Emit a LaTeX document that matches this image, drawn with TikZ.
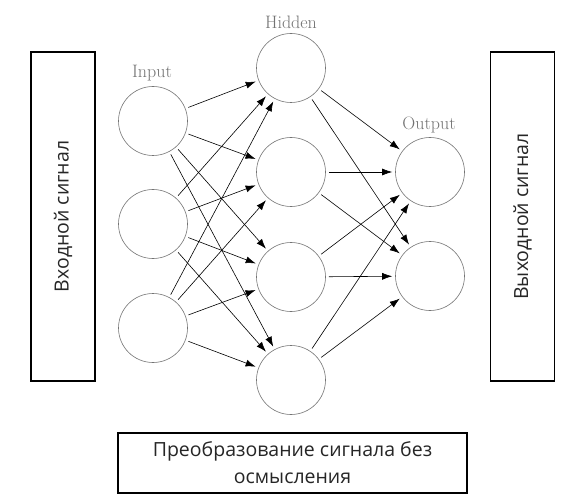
\documentclass[tikz,border=0pt]{standalone}
\usepackage{fontspec}
\newfontfamily\rufont{Open Sans}
\usetikzlibrary{arrows.meta}
\begin{document}
\begin{tikzpicture}[x=1bp,y=-1bp,
  neuron/.style={circle,draw=black!55,line width=0.6bp,minimum size=69bp,inner sep=0pt},
  layerlabel/.style={text=black!55,font=\fontsize{18bp}{20bp}\selectfont},
  sigbox/.style={draw=black,line width=1.6bp,minimum width=64bp,minimum height=329bp,inner sep=0pt},
  conn/.style={-{Latex[length=10bp,width=7bp]},line width=0.6bp,shorten <=3bp,shorten >=3bp},
  rutext/.style={font=\rufont\fontsize{19.5bp}{27bp}\selectfont,text=black!85}]
\useasboundingbox (0,0) rectangle (578,504);
\fill[white] (0,0) rectangle (578,504);
% neurons
\node[neuron] (i1) at (153,121) {};
\node[neuron] (i2) at (153,224) {};
\node[neuron] (i3) at (153,328) {};
\node[neuron] (h1) at (291,68) {};
\node[neuron] (h2) at (291,172) {};
\node[neuron] (h3) at (291,277) {};
\node[neuron] (h4) at (291,380) {};
\node[neuron] (o1) at (430,172) {};
\node[neuron] (o2) at (430,276) {};
% labels
\node[layerlabel] (li) at (152,73) {Input};
\node[layerlabel] (lh) at (291,22) {Hidden};
\node[layerlabel] (lo) at (429,125) {Output};
% connections
\foreach \a in {i1,i2,i3}{\foreach \b in {h1,h2,h3,h4}{\draw[conn] (\a) -- (\b);}}
\foreach \a in {h1,h2,h3,h4}{\foreach \b in {o1,o2}{\draw[conn] (\a) -- (\b);}}
% side boxes
\node[sigbox] (inbox) at (63,216.5) {};
\node[rutext,rotate=90] (intext) at (inbox.center) {Входной сигнал};
\node[sigbox] (outbox) at (522.5,216.5) {};
\node[rutext,rotate=90] (outtext) at (outbox.center) {Выходной сигнал};
% bottom box
\node[draw=black,line width=1.6bp,minimum width=349bp,minimum height=60bp,inner sep=0pt] (bbox) at (292.5,463) {};
\node[rutext,align=center] (btext) at (bbox.center) {Преобразование сигнала без\\осмысления};
\end{tikzpicture}
\end{document}
